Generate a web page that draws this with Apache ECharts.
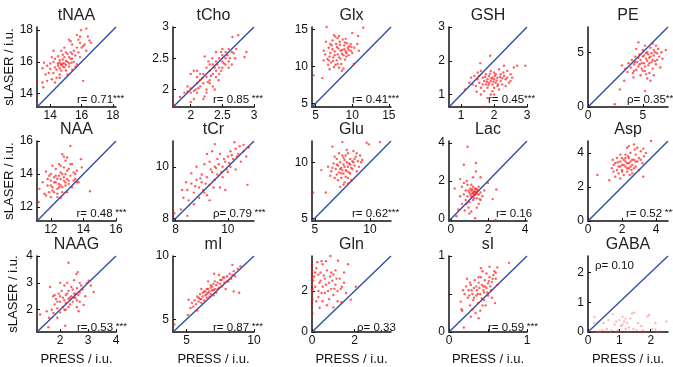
<!DOCTYPE html>
<html><head><meta charset="utf-8">
<script src="https://cdn.jsdelivr.net/npm/echarts@6/dist/echarts.min.js"></script>
<style>html,body{margin:0;padding:0;background:#fff}#c{width:673px;height:367px}</style>
</head><body><div id="c"></div>
<script>
// ---------- DATA ----------
const titles = ['tNAA','tCho','Glx','GSH','PE','NAA','tCr','Glu','Lac','Asp','NAAG','mI','Gln','sI','GABA'];
const axisMin = [13.15,1.72,4.5,0.63,0, 11.15,7.9,4.75,-0.1,0, 1.17,4.0,0,0,0];
const axisMax = [18.2,3.0,15.3,3.0,7.3, 16.0,11.0,11.9,4.1,4.7, 4.0,10.0,3.7,1.0,2.55];
const tickVals = [[14,16,18],[2,2.5,3],[5,10,15],[1,2,3],[0,5],[12,14,16],[8,10],[5,10],[0,2,4],[0,2,4],[2,3,4],[5,10],[0,2],[0,0.5,1],[0,1,2]];
const labelVals = [[14,16,18],[2,2.5,3],[5,10,15],[1,2,3],[0,5],[12,14,16],[8,10],[5,10],[0,2,4],[0,2,4],[2,3,4],[5,10],[0,2],[0,1],[0,1,2]];
const annText = ['r= 0.71','r= 0.85','r= 0.41','r= 0.45','ρ= 0.35','r= 0.48','ρ= 0.79','r= 0.62','r= 0.16','r= 0.52','r= 0.53','r= 0.87','ρ= 0.33','r= 0.59','ρ= 0.10'];
const annStars = ['***',' ***','***','***','***',' ***',' ***','***','',' ***',' ***',' ***','',' ***',''];

const tNAA = [[16.3,18.1],[15.96,18.0],[15.7,17.7],[15.2,17.4],[15.3,17.3],[16.5,17.35],[16.6,17.2],[15.9,17.2],[15.4,17.1],[16.1,17.0],[14.2,16.7],[14.7,16.7],[14.9,16.9],[13.6,15.95],[13.5,15.6],[13.8,15.75],[14.0,15.55],[13.8,14.8],[13.5,14.7],[13.55,14.4],[13.15,14.8],[14.2,15.3],[14.5,15.75],[14.6,15.95],[14.7,15.85],[14.8,16.15],[15.0,16.05],[15.2,16.3],[15.4,16.5],[15.5,16.7],[15.1,16.5],[14.9,15.65],[14.6,15.2],[14.4,15.0],[14.1,14.9],[16.1,14.8],[15.7,15.85],[15.35,15.95],[15.9,16.3],[15.0,15.45],[14.7,15.45],[14.3,15.65],[14.5,16.35],[15.7,16.9],[16.3,16.7],[15.8,17.4],[14.7,15.8],[14.8,15.7],[14.9,15.9],[15.0,15.8],[14.6,15.6],[15.1,16.0],[14.4,15.5],[15.3,16.2],[14.2,16.0],[15.5,16.0],[14.8,15.9],[15.2,15.7],[14.3,16.2],[14.5,15.9],[14.6,16.1],[14.9,16.3],[15.0,16.6],[15.2,15.9],[15.3,16.6],[15.4,16.2],[15.6,16.4],[15.8,16.6],[16.0,16.9],[16.2,17.1],[14.0,15.9],[13.9,15.3],[14.3,14.7],[14.6,15.0],[15.1,15.2],[15.4,15.5],[15.6,15.7],[14.8,16.45],[15.9,17.6],[16.4,17.6],[13.7,15.2],[14.1,16.3]];
const tCho = [[1.75,1.74],[1.83,1.88],[1.9,1.95],[1.95,1.97],[2.0,2.02],[2.0,1.95],[2.05,1.98],[2.1,2.1],[2.1,2.2],[2.15,2.05],[2.15,2.15],[2.2,2.25],[2.2,2.1],[2.22,1.89],[2.25,2.0],[2.25,2.2],[2.3,2.3],[2.3,2.15],[2.3,2.4],[2.35,2.25],[2.35,2.4],[2.4,2.3],[2.4,2.45],[2.4,2.2],[2.45,2.35],[2.45,2.5],[2.5,2.45],[2.5,2.55],[2.5,2.35],[2.55,2.5],[2.55,2.6],[2.6,2.45],[2.6,2.65],[2.65,2.6],[2.7,2.5],[2.66,2.84],[2.75,2.87],[2.88,2.6],[2.85,2.52],[2.22,2.53],[2.1,2.3],[2.0,2.25],[2.05,2.3],[2.25,2.35],[2.15,2.25],[2.3,2.1],[2.35,2.05],[2.45,2.25],[2.6,2.35],[2.2,1.85],[2.05,1.85],[2.4,2.6],[2.5,2.65],[2.1,1.95],[2.0,1.8],[2.12,2.02],[2.18,2.18],[2.27,2.12],[2.32,2.22],[2.38,2.35],[2.42,2.4],[2.48,2.3],[2.52,2.42],[2.58,2.55],[2.62,2.5],[2.68,2.58],[2.28,2.45],[2.34,2.5],[2.44,2.15],[2.55,2.4],[2.08,2.0],[1.95,2.05],[2.25,1.95],[2.38,2.0],[2.65,2.4],[2.72,2.65],[2.48,2.6]];
const Glx = [[4.7,8.8],[6.5,15.3],[11.5,15.2],[5.9,8.4],[7.5,14.2],[8.2,14.1],[10.0,14.5],[10.8,14.1],[9.1,13.7],[10.7,13.0],[9.8,12.1],[10.9,12.1],[10.2,10.3],[8.6,9.4],[7.5,9.9],[6.1,12.1],[6.1,10.8],[6.6,11.0],[6.3,11.6],[6.8,12.5],[7.0,11.8],[7.2,12.8],[7.4,11.2],[7.6,12.0],[7.8,13.0],[7.9,10.8],[8.0,11.6],[8.1,12.4],[8.3,12.9],[8.4,11.0],[8.5,10.3],[8.6,12.2],[8.8,11.5],[8.9,12.8],[9.0,10.9],[9.1,12.0],[9.2,11.3],[9.3,13.1],[9.4,12.5],[9.6,12.7],[7.1,10.5],[6.9,9.6],[7.7,10.2],[8.2,9.8],[8.8,9.7],[9.5,11.5],[6.4,13.3],[7.3,13.5],[8.0,13.8],[8.7,13.6],[6.7,10.2],[9.9,12.6],[7.0,13.0],[7.3,12.3],[7.6,11.5],[7.9,12.6],[8.2,11.2],[8.4,12.1],[8.6,11.7],[8.9,12.3],[9.2,11.8],[9.5,12.2],[9.8,13.0],[8.0,10.3],[7.4,10.7],[6.9,11.3],[9.0,13.2],[10.3,12.5],[10.0,11.8],[8.3,13.3],[7.7,14.0],[6.8,10.8]];
const GSH = [[1.12,1.15],[1.25,1.35],[1.3,1.5],[1.4,1.55],[1.45,1.25],[1.5,1.45],[1.5,1.65],[1.55,1.35],[1.6,1.7],[1.6,1.2],[1.65,1.5],[1.7,1.4],[1.7,1.1],[1.75,1.6],[1.75,1.3],[1.8,1.45],[1.8,1.2],[1.85,1.55],[1.85,1.35],[1.9,1.4],[1.9,1.0],[1.9,1.7],[1.95,1.3],[1.95,1.5],[2.0,1.45],[2.0,1.2],[2.05,1.6],[2.05,1.35],[2.1,1.5],[2.1,1.25],[2.15,1.75],[2.2,1.4],[2.2,1.6],[2.25,1.3],[2.3,1.55],[2.35,1.45],[2.4,1.7],[2.45,1.35],[2.5,1.6],[2.55,1.5],[2.6,1.8],[2.7,1.85],[2.95,1.85],[1.88,2.15],[1.58,1.93],[1.47,1.08],[1.68,0.64],[1.8,0.9],[2.0,1.0],[1.35,1.3],[2.3,1.85],[1.6,1.0],[1.72,1.52],[1.78,1.38],[1.83,1.28],[1.88,1.62],[1.92,1.48],[1.98,1.38],[2.02,1.55],[2.08,1.42],[2.12,1.3],[2.18,1.52],[2.25,1.48],[2.28,1.65],[2.4,1.5],[1.65,1.3],[1.55,1.55],[2.0,1.65],[2.15,1.15],[1.95,1.1],[2.35,1.25],[2.5,1.4]];
const PE = [[2.45,0.25],[2.9,1.6],[3.3,2.4],[4.15,2.7],[5.2,1.45],[5.4,2.6],[5.7,2.4],[4.6,5.9],[5.9,5.8],[7.1,5.2],[3.1,3.8],[3.4,3.5],[3.6,3.2],[3.7,4.0],[3.9,3.6],[4.0,4.3],[4.1,3.1],[4.2,3.9],[4.3,4.6],[4.4,3.4],[4.5,4.1],[4.6,3.7],[4.7,4.8],[4.8,4.3],[4.9,3.5],[5.0,4.6],[5.0,5.2],[5.1,4.0],[5.2,3.3],[5.3,4.4],[5.4,5.0],[5.5,3.8],[5.6,4.5],[5.7,5.4],[5.8,4.1],[5.9,3.5],[6.0,4.7],[6.1,5.0],[6.2,3.9],[6.3,4.3],[6.5,4.6],[6.6,3.6],[6.8,4.4],[5.6,3.1],[4.8,2.9],[5.2,5.6],[6.0,2.9],[5.3,3.0],[4.4,5.3],[6.4,5.3],[4.9,4.0],[5.1,4.7],[5.3,4.9],[5.4,4.2],[5.5,4.8],[5.6,4.0],[5.7,4.6],[5.8,4.9],[5.9,4.3],[6.0,5.2],[6.1,4.2],[6.3,4.9],[4.6,4.5],[4.3,4.1],[4.7,3.9],[5.2,3.7],[6.7,5.0],[5.0,3.3],[4.2,3.3],[6.2,5.6]];
const NAA = [[13.2,15.7],[13.85,14.9],[14.4,12.95],[11.3,13.1],[11.25,12.3],[12.8,15.05],[12.5,14.6],[11.7,14.15],[11.5,13.5],[12.4,12.8],[12.6,12.55],[13.4,13.6],[13.6,14.2],[13.9,14.4],[11.8,13.3],[11.9,12.9],[12.0,13.6],[12.0,14.0],[12.1,13.2],[12.2,12.9],[12.2,13.8],[12.3,13.5],[12.3,14.3],[12.4,13.1],[12.5,13.9],[12.5,13.4],[12.6,13.7],[12.6,14.1],[12.7,13.2],[12.7,12.9],[12.8,13.6],[12.8,14.4],[12.9,13.3],[12.9,14.0],[13.0,13.7],[13.0,12.9],[13.1,14.3],[13.1,13.4],[13.2,13.9],[13.3,14.6],[13.3,13.2],[13.5,14.0],[13.5,13.7],[12.1,14.5],[11.6,12.8],[12.0,12.6],[12.9,14.8],[13.0,15.0],[13.7,13.5],[11.9,13.9],[12.2,13.5],[12.4,13.7],[12.6,13.3],[12.7,14.0],[12.8,13.8],[12.9,13.5],[13.0,14.2],[13.1,13.6],[12.3,13.9],[12.5,13.2],[12.1,13.0],[11.8,13.7],[13.2,14.6],[13.4,14.1],[12.6,14.5],[12.0,13.3],[13.6,13.5],[12.4,12.6],[12.7,15.2],[11.7,12.7]];
const tCr = [[7.95,8.2],[8.2,8.35],[8.45,8.1],[8.25,9.1],[8.45,9.1],[8.6,9.75],[8.6,9.35],[8.7,8.55],[8.3,8.8],[8.5,8.7],[8.7,9.0],[8.8,9.5],[8.9,9.2],[8.9,8.8],[9.0,9.7],[9.0,9.4],[9.1,9.0],[9.1,10.1],[9.2,9.6],[9.3,9.3],[9.3,8.7],[9.3,10.2],[9.4,9.8],[9.5,10.0],[9.5,9.5],[9.5,10.88],[9.6,10.3],[9.6,9.7],[9.7,10.5],[9.8,10.0],[9.8,9.6],[9.9,10.2],[9.9,9.1],[10.0,10.4],[10.0,9.8],[10.1,10.6],[10.1,10.0],[10.2,10.3],[10.25,10.95],[10.3,10.7],[10.3,9.9],[10.4,10.5],[10.5,10.2],[10.6,10.85],[10.7,10.4],[10.75,9.3],[9.2,10.5],[8.8,10.0],[9.4,10.6],[8.4,9.4],[9.7,9.2],[9.15,9.35],[9.35,9.9],[9.45,9.2],[9.55,9.95],[9.65,10.1],[9.75,9.8],[9.85,10.3],[9.95,9.9],[10.05,10.15],[10.15,10.45],[10.35,10.4],[10.45,10.8],[8.95,9.55],[9.05,9.1],[8.75,9.25],[10.6,10.6],[10.8,10.75],[9.2,8.9]];
const Glu = [[4.85,7.3],[6.0,7.3],[6.6,11.4],[7.5,11.8],[9.7,11.75],[9.9,11.6],[10.9,11.8],[5.6,9.3],[6.4,8.8],[7.3,7.8],[7.7,8.2],[9.1,10.6],[8.5,11.0],[6.2,9.6],[6.5,9.2],[6.7,9.9],[6.8,8.6],[6.9,9.4],[7.0,10.3],[7.0,8.9],[7.1,9.7],[7.2,9.1],[7.3,10.0],[7.4,8.6],[7.4,9.5],[7.5,10.6],[7.6,9.0],[7.6,9.8],[7.7,10.2],[7.8,9.3],[7.8,8.7],[7.9,10.0],[8.0,9.6],[8.0,10.8],[8.1,9.1],[8.2,10.3],[8.2,9.8],[8.3,8.4],[8.4,9.4],[8.5,10.0],[8.6,9.7],[8.7,10.5],[8.8,9.2],[8.9,10.1],[9.0,9.6],[7.2,10.8],[6.8,10.5],[8.0,8.1],[7.6,8.0],[9.3,10.2],[7.9,11.1],[7.5,9.3],[7.7,9.6],[7.9,9.2],[8.1,9.9],[8.3,9.5],[7.3,9.4],[7.6,10.4],[8.4,10.1],[7.0,9.8],[8.2,9.0],[8.6,10.3],[7.4,9.0],[7.8,10.6],[8.8,10.8],[9.2,10.0],[6.6,9.5],[7.1,8.4],[8.0,8.6]];
const Lac = [[0.9,3.8],[0.7,2.85],[1.35,2.95],[1.35,2.5],[0.5,2.1],[0.85,2.0],[0.2,1.6],[0.3,0.15],[2.25,1.05],[2.45,1.55],[2.0,1.9],[1.55,1.05],[0.95,0.6],[1.0,0.3],[1.3,0.05],[2.4,-0.05],[0.6,1.7],[0.7,1.3],[0.8,1.5],[0.8,1.0],[0.9,1.2],[0.9,1.8],[1.0,1.4],[1.0,0.9],[1.05,1.6],[1.1,1.2],[1.1,1.5],[1.15,1.35],[1.2,1.0],[1.2,1.7],[1.25,1.45],[1.3,1.25],[1.3,1.6],[1.35,1.4],[1.4,1.1],[1.4,1.55],[1.45,1.3],[1.5,1.7],[1.5,0.8],[1.6,1.4],[1.7,1.2],[1.8,1.5],[0.6,0.8],[0.5,1.2],[1.2,2.2],[1.4,0.6],[1.1,0.4],[0.4,0.5],[1.6,2.2],[0.75,0.45],[1.15,1.55],[1.25,1.3],[1.3,1.45],[1.35,1.6],[1.05,1.3],[1.2,1.4],[0.95,1.5],[1.45,1.5],[1.25,1.1],[0.85,0.8],[1.6,1.0],[0.7,1.9],[1.1,1.8],[1.5,1.3]];
const Asp = [[0.55,2.7],[1.25,2.4],[3.7,4.7],[3.25,4.25],[2.75,4.2],[2.3,4.3],[3.25,2.6],[1.45,3.6],[1.4,3.1],[1.5,2.9],[1.6,3.4],[1.7,3.0],[1.7,3.7],[1.8,3.2],[1.8,2.8],[1.9,3.5],[1.9,3.9],[2.0,3.0],[2.0,3.3],[2.1,3.6],[2.1,2.7],[2.2,3.2],[2.2,3.9],[2.3,3.4],[2.3,2.9],[2.4,3.7],[2.4,3.1],[2.5,3.5],[2.5,4.0],[2.6,3.3],[2.6,2.8],[2.7,3.6],[2.8,3.2],[2.8,3.9],[2.9,3.5],[3.0,3.7],[3.0,3.0],[3.1,4.1],[3.2,3.4],[3.3,3.8],[1.6,2.6],[2.0,3.7],[2.4,4.4],[2.7,4.5],[1.9,2.5],[3.4,4.0],[2.9,4.3],[1.5,3.3],[2.1,3.3],[2.2,3.5],[2.3,3.1],[2.4,3.4],[2.5,3.2],[2.6,3.6],[2.7,3.1],[2.2,3.7],[1.9,3.2],[2.0,2.9],[2.8,3.5],[2.35,3.8],[1.75,3.45],[2.55,3.0],[3.1,3.6],[2.45,2.7]];
const NAAG = [[2.3,3.75],[2.63,3.4],[2.58,3.33],[1.64,2.85],[1.28,1.82],[1.58,1.35],[2.18,1.4],[3.2,2.66],[3.02,3.08],[2.66,1.94],[2.84,2.18],[1.76,1.88],[1.52,1.94],[1.7,2.0],[1.8,2.2],[1.85,2.4],[1.9,2.05],[1.95,2.6],[2.0,2.3],[2.0,1.9],[2.05,2.7],[2.1,2.45],[2.1,2.1],[2.15,2.9],[2.2,2.55],[2.2,2.25],[2.25,3.0],[2.3,2.4],[2.3,2.7],[2.35,2.2],[2.4,2.85],[2.4,2.5],[2.45,2.3],[2.5,2.6],[2.5,3.1],[2.55,2.45],[2.6,2.8],[2.65,2.55],[2.7,2.3],[2.7,3.0],[2.8,2.75],[2.9,2.5],[2.95,3.0],[3.1,2.9],[1.6,1.7],[1.9,1.7],[2.2,2.0],[2.0,3.0],[1.75,2.5],[2.6,2.1],[2.15,2.35],[2.25,2.6],[2.35,2.45],[2.45,2.75],[2.55,2.6],[2.6,2.35],[2.0,2.5],[1.9,2.3],[2.7,2.65],[2.3,2.1],[2.15,2.0],[1.8,2.55],[2.5,2.45],[2.75,2.9]];
const mI = [[4.1,4.6],[5.1,5.35],[5.15,6.55],[7.05,8.6],[8.4,9.3],[9.0,9.2],[8.9,7.1],[8.5,7.2],[5.3,5.9],[5.4,6.3],[5.5,6.0],[5.6,6.5],[5.7,6.2],[5.8,6.8],[5.9,6.4],[6.0,6.6],[6.0,7.0],[6.1,6.3],[6.2,6.8],[6.3,7.2],[6.3,6.5],[6.4,6.9],[6.5,7.4],[6.5,6.7],[6.6,7.1],[6.7,6.8],[6.8,7.5],[6.8,7.0],[6.9,7.3],[7.0,7.8],[7.0,6.9],[7.1,7.4],[7.2,7.1],[7.3,7.9],[7.4,7.5],[7.5,8.1],[7.6,7.6],[7.7,8.3],[7.8,7.9],[8.0,8.4],[8.1,8.0],[8.2,8.6],[8.3,8.2],[8.5,8.8],[8.6,8.4],[8.8,9.0],[6.1,7.4],[6.6,8.0],[7.4,8.5],[5.8,5.7],[7.9,7.4],[6.2,7.1],[6.4,7.2],[6.6,7.4],[6.7,7.2],[6.9,7.6],[7.0,7.3],[7.2,7.7],[7.3,7.4],[7.5,7.8],[7.6,8.1],[6.5,7.0],[6.1,6.6],[5.9,6.7],[7.8,8.3],[8.0,8.0],[8.4,8.5],[6.8,7.7],[7.1,8.0]];
const Gln = [[0.0,3.3],[0.0,2.9],[0.02,2.6],[0.0,2.3],[0.03,2.1],[0.0,1.9],[0.02,1.6],[0.0,1.3],[0.02,0.9],[0.05,2.5],[0.1,2.7],[0.86,3.7],[0.94,3.75],[1.22,3.47],[1.69,3.3],[2.05,2.2],[1.81,1.57],[1.38,1.45],[0.36,1.18],[0.45,3.45],[0.5,3.3],[0.2,3.1],[0.3,2.8],[0.4,2.5],[0.5,2.2],[0.6,2.6],[0.6,1.9],[0.7,3.0],[0.8,2.4],[0.8,1.6],[0.9,2.1],[1.0,2.8],[1.0,1.8],[1.1,2.3],[1.2,2.0],[1.2,1.5],[1.3,2.6],[1.4,2.2],[1.5,2.4],[1.6,1.9],[1.1,3.0],[0.3,2.0],[0.2,1.5],[0.5,1.5],[0.7,1.3],[0.9,2.9],[1.5,2.9],[0.15,2.2],[0.35,2.4],[0.25,3.4],[1.0,1.2],[0.0,2.7],[0.0,2.0],[0.0,1.5],[0.0,2.5],[0.02,3.0],[0.4,2.9],[0.55,2.75],[0.65,2.3],[0.75,2.0],[0.85,2.7],[0.95,2.5],[1.05,2.1],[1.15,2.6],[0.45,1.9],[0.3,1.7],[0.65,3.45],[1.35,2.1],[0.15,2.9]];
const sI = [[0.17,0.28],[0.19,0.06],[0.41,0.84],[0.52,0.86],[0.62,0.85],[0.77,0.91],[0.59,0.38],[0.38,0.18],[0.28,0.2],[0.15,0.4],[0.18,0.55],[0.2,0.5],[0.22,0.6],[0.24,0.45],[0.25,0.55],[0.27,0.35],[0.28,0.62],[0.3,0.5],[0.31,0.42],[0.32,0.58],[0.33,0.68],[0.35,0.48],[0.36,0.55],[0.37,0.38],[0.38,0.65],[0.4,0.5],[0.41,0.72],[0.42,0.44],[0.44,0.6],[0.45,0.52],[0.46,0.68],[0.47,0.35],[0.48,0.58],[0.5,0.64],[0.5,0.48],[0.52,0.72],[0.54,0.55],[0.55,0.66],[0.57,0.75],[0.6,0.7],[0.62,0.62],[0.3,0.3],[0.23,0.7],[0.4,0.28],[0.43,0.8],[0.48,0.77],[0.34,0.25],[0.26,0.48],[0.55,0.45],[0.16,0.3],[0.35,0.6],[0.37,0.5],[0.39,0.58],[0.42,0.62],[0.44,0.55],[0.46,0.6],[0.49,0.52],[0.51,0.67],[0.53,0.6],[0.32,0.45],[0.29,0.55],[0.56,0.7],[0.58,0.8],[0.6,0.78],[0.45,0.42],[0.38,0.72],[0.27,0.65],[0.43,0.35]];
const GABA = [[0.2,0.5],[0.2,0.3],[0.35,0.02],[0.45,0.05],[0.55,0.02],[0.6,0.1],[0.7,0.0],[0.8,0.6],[0.85,0.25],[0.9,0.35],[0.95,0.05],[1.0,0.4],[1.05,0.2],[1.1,0.5],[1.15,0.35],[1.2,0.1],[1.25,0.3],[1.3,0.15],[1.35,0.45],[1.4,0.62],[1.47,0.65],[1.55,0.05],[1.6,0.3],[1.7,0.2],[1.8,0.0],[1.9,0.52],[1.95,0.57],[2.05,0.1],[2.15,0.3],[2.15,0.08],[2.5,0.35],[0.3,0.0],[1.0,0.0],[1.3,0.02],[0.65,0.4],[1.75,0.05],[2.3,0.02],[1.1,0.25],[0.4,0.0],[0.75,0.05],[0.9,0.0],[1.45,0.1],[1.65,0.0],[2.2,0.0],[0.5,0.3],[1.2,0.45]];
const seriesData = [tNAA,tCho,Glx,GSH,PE,NAA,tCr,Glu,Lac,Asp,NAAG,mI,Gln,sI,GABA];

// ---------- LAYOUT ----------
const colLeft = [37,173,312,449,588];
const colW = [79,81,79,78,80];
const rowTop = [27,141,256];
const rowH = [80,80,79];
const annOff = [40,40,40,39,39, 39.5,40,40,47,38, 40,40,45,39,7];
const FONT = '"Liberation Sans", Arial, Helvetica, sans-serif';

const chart = echarts.init(document.getElementById('c'), null, {renderer:'canvas'});
const grid=[], xAxis=[], yAxis=[], series=[], graphic=[];
for (let i=0;i<15;i++){
  const r = Math.floor(i/5), c = i%5;
  const L = colLeft[c], T = rowTop[r], W = colW[c], H = rowH[r];
  grid.push({left:L, top:T, width:W, height:H, containLabel:false});
  const common = {
    gridIndex:i, type:'value', min:axisMin[i], max:axisMax[i],
    axisLine:{show:true, onZero:false, lineStyle:{color:'#111', width:1.5}},
    axisTick:{show:true, inside:true, length:3, customValues:tickVals[i], lineStyle:{color:'#111', width:1}},
    axisLabel:{customValues:labelVals[i], fontSize:12, color:'#111', fontFamily:FONT, showMinLabel:true, showMaxLabel:true},
    splitLine:{show:false}
  };
  xAxis.push(Object.assign({}, common, {
    axisLabel:Object.assign({}, common.axisLabel, {margin:3}),
    name: r===2 ? 'PRESS / i.u.' : '', nameLocation:'middle', nameGap:21,
    nameTextStyle:{fontSize:13, color:'#111', fontFamily:FONT}
  }));
  yAxis.push(Object.assign({}, common, {
    axisLabel:Object.assign({}, common.axisLabel, {margin:4}),
    name: c===0 ? 'sLASER / i.u.' : '', nameLocation:'middle', nameGap:17,
    nameTextStyle:{fontSize:13, color:'#111', fontFamily:FONT}
  }));
  series.push({
    type:'line', xAxisIndex:i, yAxisIndex:i, symbol:'none', silent:true,
    data:[[axisMin[i],axisMin[i]],[axisMax[i],axisMax[i]]],
    lineStyle:{color:'#2f4fa6', width:1.4}, z:2
  });
  series.push({
    type:'scatter', xAxisIndex:i, yAxisIndex:i, data:seriesData[i],
    symbolSize:2.4, itemStyle:{color: i===14 ? 'rgba(255,60,60,0.45)' : 'rgba(255,20,20,0.85)'}, z:3
  });
  graphic.push({type:'text', x:L+W/2, y:T-11, style:{text:titles[i], font:'16px '+FONT, fill:'#222', align:'center', verticalAlign:'middle'}});
  const ay = (i===14) ? T+10 : T+H-7;
  graphic.push({type:'text', x:L+annOff[i], y:ay, style:{
    text:'{a|'+annText[i]+'}'+(annStars[i]?'{s|'+annStars[i]+'}':''),
    font:'11px '+FONT, fill:'#111',
    align:'left', verticalAlign:'middle',
    rich:{a:{fontSize:11.5, fontFamily:FONT, fill:'#111', lineHeight:13},
          s:{fontSize:9.5, fontFamily:FONT, fill:'#111', verticalAlign:'top', lineHeight:13}}
  }});
}
chart.setOption({animation:false, grid, xAxis, yAxis, series, graphic});
</script></body></html>
